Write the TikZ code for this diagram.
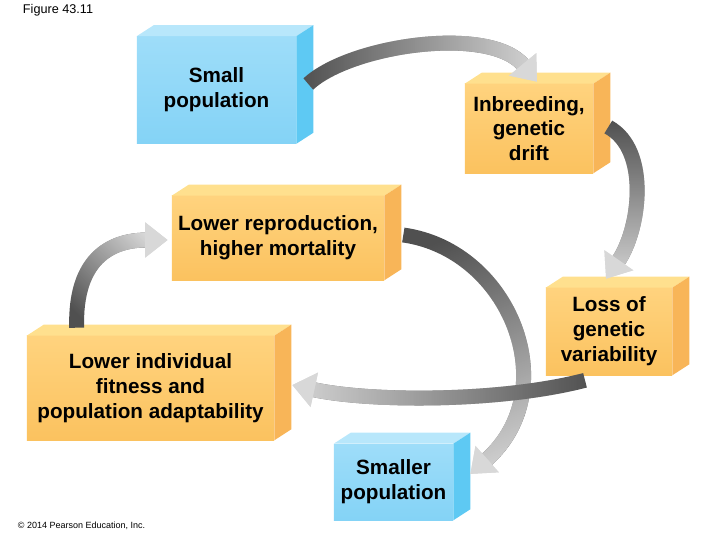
\documentclass[tikz,border=0pt]{standalone}
\usepackage{fontspec}
\setmainfont{Liberation Sans}
\usetikzlibrary{arrows.meta,calc,fadings}
\definecolor{BoxOrangeHi}{HTML}{FFD37E}
\definecolor{BoxOrangeLo}{HTML}{FBC25F}
\definecolor{BoxOrangeTop}{HTML}{FFE08E}
\definecolor{BoxOrangeSide}{HTML}{F8B558}
\definecolor{BoxBlueHi}{HTML}{9EDDF9}
\definecolor{BoxBlueLo}{HTML}{84D3F6}
\definecolor{BoxBlueTop}{HTML}{B8E7FB}
\definecolor{BoxBlueSide}{HTML}{5EC9F3}
\definecolor{BandDark}{HTML}{505050}
\definecolor{BandLight}{HTML}{D8D8D8}
\tikzfading[name=bandfade,left color=transparent!100,right color=transparent!0]

\begin{document}
\begin{tikzpicture}[
  x=0.025cm,y=-0.025cm,
  cubebox/.style={inner sep=0pt,align=center,font=\bfseries\fontsize{14.7}{17.7}\selectfont},
  orangebox/.style={cubebox,top color=BoxOrangeHi,bottom color=BoxOrangeLo},
  bluebox/.style={cubebox,top color=BoxBlueHi,bottom color=BoxBlueLo},
  band/.style={draw=BandDark,line width=10.6pt,-{Triangle[width=24pt,length=16pt,color=BandLight]},
    postaction={draw=BandLight,path fading=bandfade,fit fading=true,fading angle=#1}}
]
\useasboundingbox (0,0) rectangle (720,540);
\node[anchor=west,font=\fontsize{9}{11}\selectfont] (figlabel) at (18,10) {Figure 43.11};
\node[anchor=west,font=\fontsize{6.4}{8}\selectfont] (credit) at (13,526) {\textcopyright{} 2014 Pearson Education, Inc.};

% boxes, front faces
\node[bluebox,minimum width=3.975cm,minimum height=2.675cm] (small) at (216.5,90) {Small\\population};
\node[orangebox,minimum width=3.2cm,minimum height=2.225cm] (inbr) at (529,128.5) {Inbreeding,\\genetic\\drift};
\node[orangebox,minimum width=5.3cm,minimum height=2.1cm] (lowrep) at (278,238) {Lower reproduction,\\higher mortality};
\node[orangebox,minimum width=6.175cm,minimum height=2.6cm] (lowind) at (150.5,388) {Lower individual\\fitness and\\population adaptability};
\node[orangebox,minimum width=3.15cm,minimum height=2.175cm] (loss) at (609,331.5) {Loss of\\genetic\\variability};
\node[bluebox,minimum width=2.975cm,minimum height=1.9cm] (smaller) at (393.5,482) {Smaller\\population};

% top and side faces
\foreach \b/\c in {small/BoxBlue,inbr/BoxOrange,lowrep/BoxOrange,lowind/BoxOrange,loss/BoxOrange,smaller/BoxBlue}{
  \fill[\c Top] (\b.north west) -- ++(17,-11) -- ($(\b.north east)+(17,-11)$) -- (\b.north east) -- cycle;
  \fill[\c Side] (\b.north east) -- ++(17,-11) -- ($(\b.south east)+(17,-11)$) -- (\b.south east) -- cycle;
}

% curved arrows
\draw[band=0] ($(small.east)+(12,-6)$) .. controls +(42,-39) and +(-47,-57) .. ($(inbr.north)+(8,-2)$);
\draw[band=-90] ($(inbr.east)+(15,-1.5)$) .. controls +(42,23) and +(34,-49) .. ($(loss.north)+(-3,-9)$);
\draw[band=44] ($(lowind.north west)+(50,-8)$) .. controls +(-2,-68) and +(-58,0) .. ($(lowrep.west)+(-4,2)$);
\draw[band=-74] ($(lowrep.east)+(19,-3)$) .. controls +(107,15) and +(95,-84) .. ($(smaller.east)+(17,-8)$);
\draw[band=180] ($(loss.south)+(-24,5)$) .. controls +(-85,22) and +(78,17) .. ($(lowind.east)+(18,-3)$);
\end{tikzpicture}
\end{document}
